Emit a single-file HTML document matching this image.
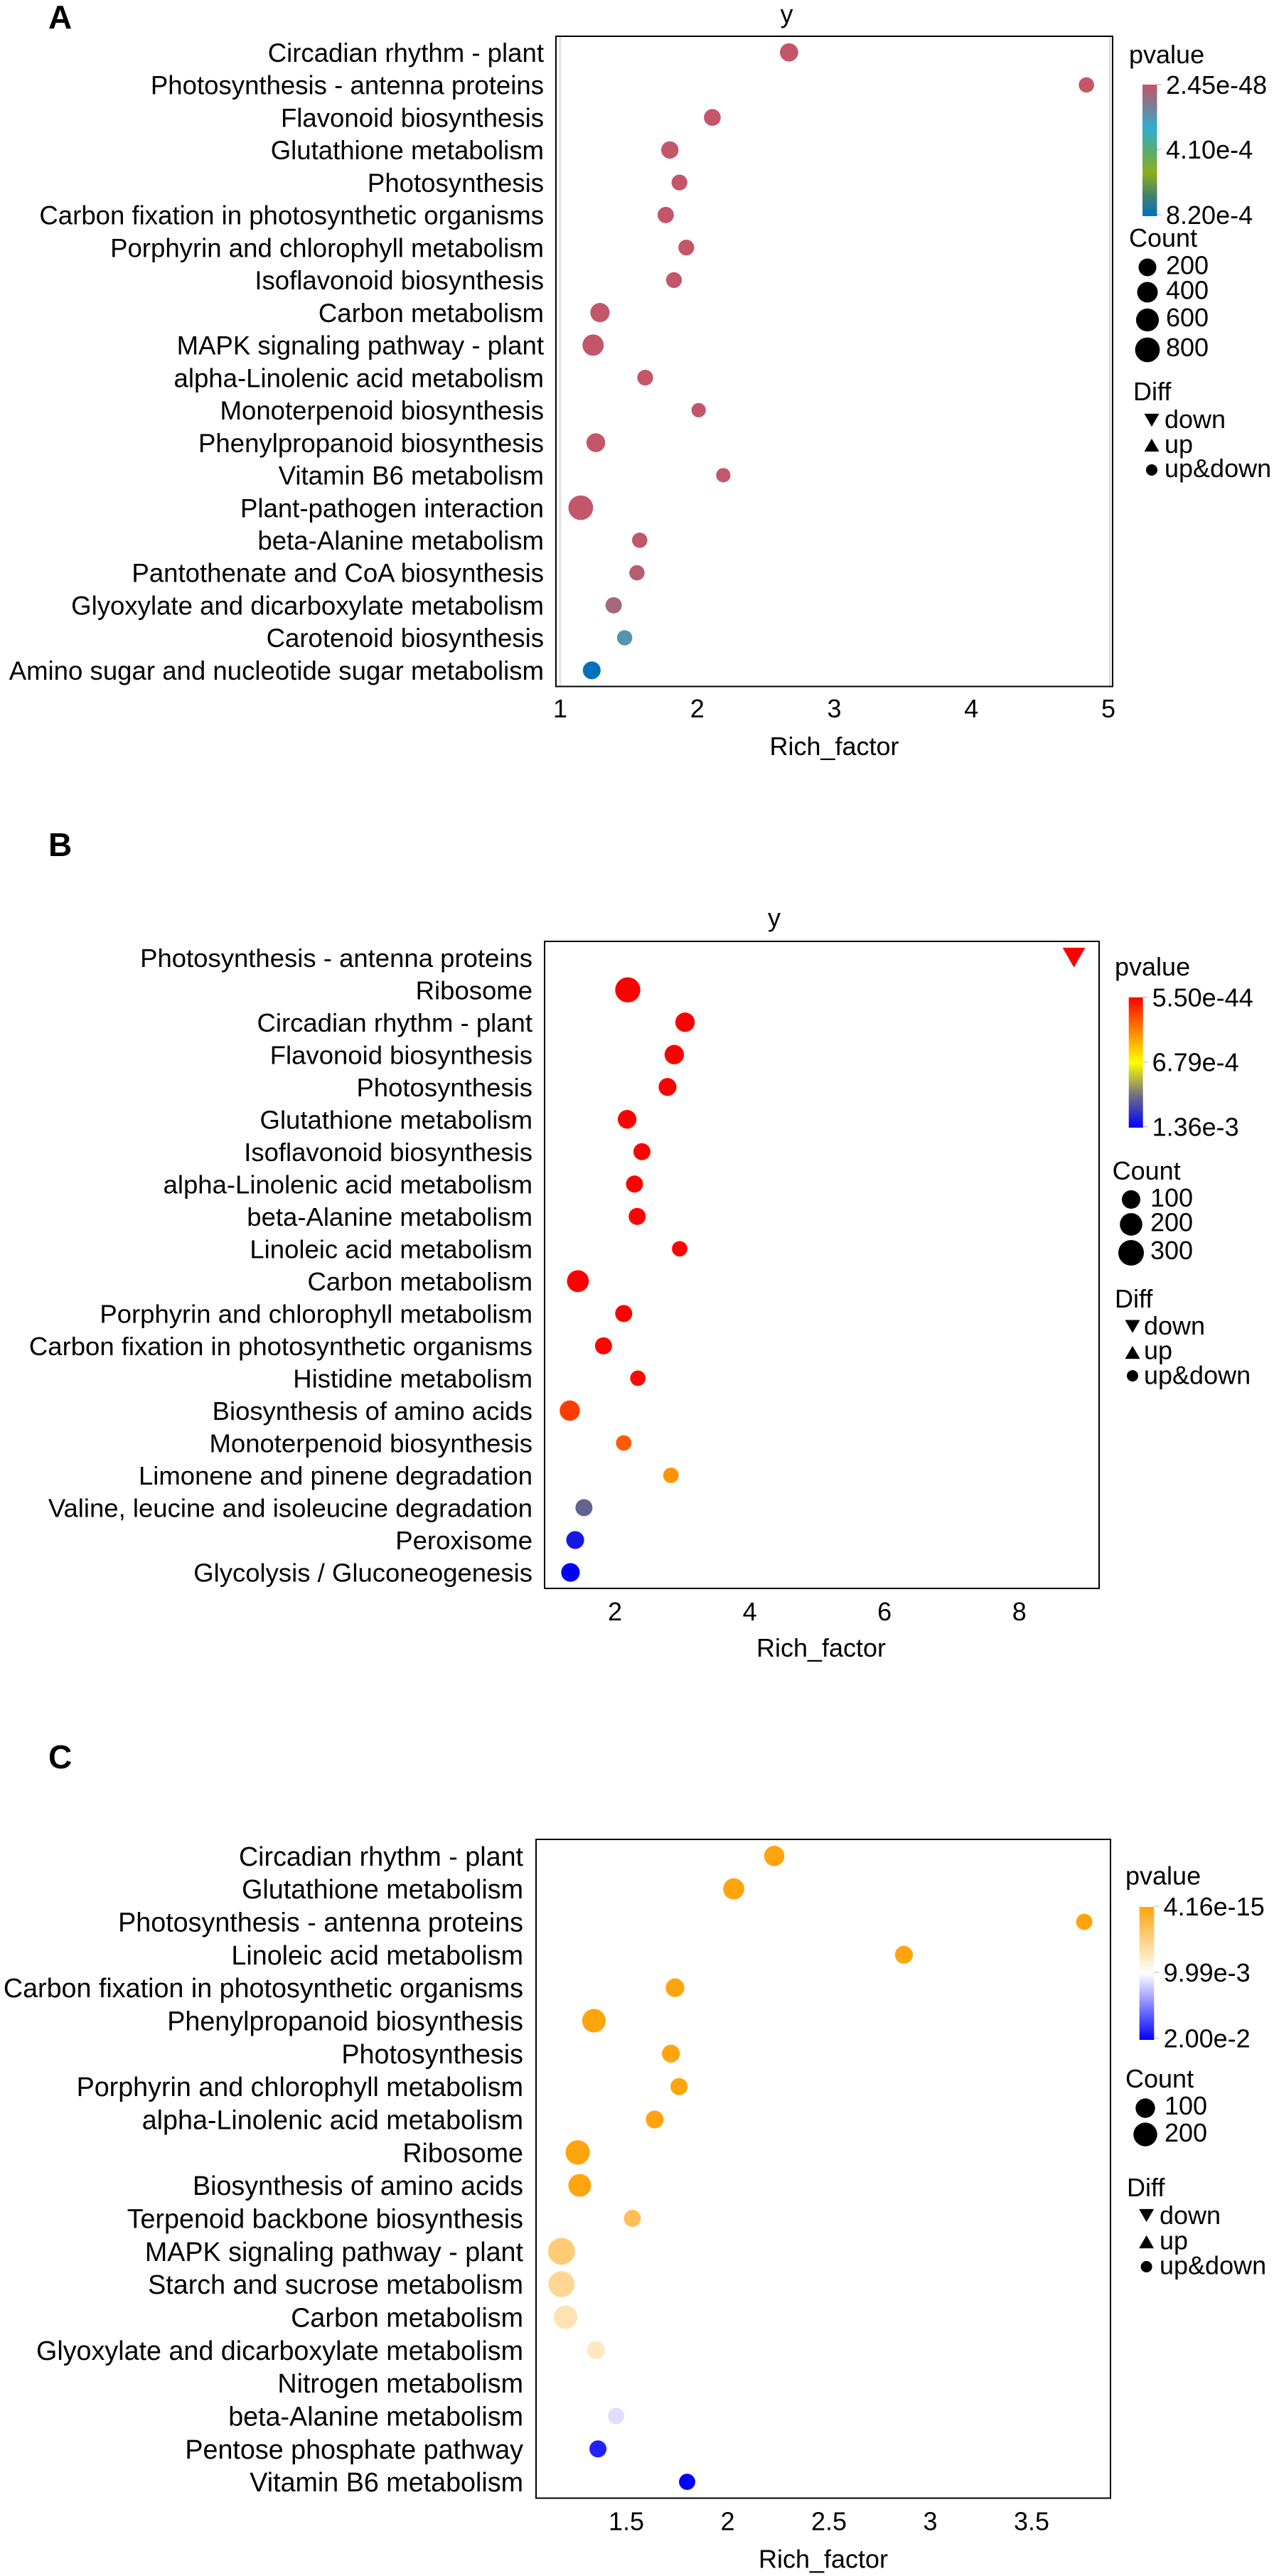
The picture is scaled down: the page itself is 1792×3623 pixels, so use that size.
<!DOCTYPE html>
<html lang="en">
<head>
<meta charset="utf-8">
<title>KEGG enrichment bubble charts</title>
<style>
html,body{margin:0;padding:0;background:#fff;}
svg{display:block;font-family:"Liberation Sans",Arial,sans-serif;}
</style>
</head>
<body>
<svg id="figure" xmlns="http://www.w3.org/2000/svg" width="1792" height="3623" viewBox="0 0 1792 3623"></svg>
<script>
/* ---------- Panel A data ---------- */
const categoriesA = ["Circadian rhythm - plant","Photosynthesis - antenna proteins","Flavonoid biosynthesis","Glutathione metabolism","Photosynthesis","Carbon fixation in photosynthetic organisms","Porphyrin and chlorophyll metabolism","Isoflavonoid biosynthesis","Carbon metabolism","MAPK signaling pathway - plant","alpha-Linolenic acid metabolism","Monoterpenoid biosynthesis","Phenylpropanoid biosynthesis","Vitamin B6 metabolism","Plant-pathogen interaction","beta-Alanine metabolism","Pantothenate and CoA biosynthesis","Glyoxylate and dicarboxylate metabolism","Carotenoid biosynthesis","Amino sugar and nucleotide sugar metabolism"];
const richA = [2.67,4.84,2.11,1.80,1.87,1.77,1.92,1.83,1.29,1.24,1.62,2.01,1.26,2.19,1.15,1.58,1.56,1.39,1.47,1.23];
const countA = [233,85,150,176,105,126,105,105,299,454,105,52,265,52,801,85,85,126,85,203];
const pvalA = [1e-48,1e-20,1e-18,1e-15,1e-14,1e-12,1e-11,1e-10,1e-9,1e-8,1e-7,1e-7,1e-6,2e-6,3e-6,8e-6,2.5e-5,6e-5,2e-4,8.2e-4];
const diffA = ["up&down","up&down","up&down","up&down","up&down","up&down","up&down","up&down","up&down","up&down","up&down","up&down","up&down","up&down","up&down","up&down","up&down","up&down","up&down","up&down"];
const xTicksA = [1,2,3,4,5];
const pvalTicksA = ["2.45e-48","4.10e-4","8.20e-4"];
const countLegendA = [200,400,600,800];

/* ---------- Panel B data ---------- */
const categoriesB = ["Photosynthesis - antenna proteins","Ribosome","Circadian rhythm - plant","Flavonoid biosynthesis","Photosynthesis","Glutathione metabolism","Isoflavonoid biosynthesis","alpha-Linolenic acid metabolism","beta-Alanine metabolism","Linoleic acid metabolism","Carbon metabolism","Porphyrin and chlorophyll metabolism","Carbon fixation in photosynthetic organisms","Histidine metabolism","Biosynthesis of amino acids","Monoterpenoid biosynthesis","Limonene and pinene degradation","Valine, leucine and isoleucine degradation","Peroxisome","Glycolysis / Gluconeogenesis"];
const richB = [8.81,2.19,3.04,2.88,2.78,2.18,2.40,2.29,2.33,2.96,1.45,2.13,1.83,2.34,1.33,2.13,2.83,1.54,1.41,1.34];
const countB = [75,285,121,121,88,103,73,73,73,47,182,73,73,47,141,47,47,73,88,103];
const pvalB = [5.5e-44,1e-30,1e-20,1e-18,1e-16,1e-12,1e-10,1e-9,1e-8,1e-7,1e-6,1e-6,1e-5,2e-5,1.6e-4,2.4e-4,3.9e-4,1.06e-3,1.29e-3,1.36e-3];
const diffB = ["down","up&down","up&down","up&down","up&down","up&down","up&down","up&down","up&down","up&down","up&down","up&down","up&down","up&down","up&down","up&down","up&down","up&down","up&down","up&down"];
const xTicksB = [2,4,6,8];
const pvalTicksB = ["5.50e-44","6.79e-4","1.36e-3"];
const countLegendB = [100,200,300];

/* ---------- Panel C data ---------- */
const categoriesC = ["Circadian rhythm - plant","Glutathione metabolism","Photosynthesis - antenna proteins","Linoleic acid metabolism","Carbon fixation in photosynthetic organisms","Phenylpropanoid biosynthesis","Photosynthesis","Porphyrin and chlorophyll metabolism","alpha-Linolenic acid metabolism","Ribosome","Biosynthesis of amino acids","Terpenoid backbone biosynthesis","MAPK signaling pathway - plant","Starch and sucrose metabolism","Carbon metabolism","Glyoxylate and dicarboxylate metabolism","Nitrogen metabolism","beta-Alanine metabolism","Pentose phosphate pathway","Vitamin B6 metabolism"];
const richC = [2.23,2.03,3.76,2.87,1.74,1.34,1.72,1.76,1.64,1.26,1.27,1.53,1.18,1.18,1.20,1.35,1.30,1.45,1.36,1.80];
const countC = [117,134,47,71,85,196,71,59,71,216,174,59,295,267,196,71,60,47,59,47];
const pvalC = [4.16e-15,1e-12,1e-11,1e-10,1e-9,1e-8,1e-7,1e-6,1e-5,2e-5,1e-4,3e-3,4.3e-3,5.5e-3,6.8e-3,7.4e-3,9.99e-3,1.13e-2,1.87e-2,2e-2];
const diffC = ["up&down","up&down","up&down","up&down","up&down","up&down","up&down","up&down","up&down","up&down","up&down","up&down","up&down","up&down","up&down","up&down","up&down","up&down","up&down","up&down"];
const xTicksC = [1.5,2,2.5,3,3.5];
const pvalTicksC = ["4.16e-15","9.99e-3","2.00e-2"];
const countLegendC = [100,200];

const diffLevels = ["down","up","up&down"];

/* ---------- Layout (pixels, styles) kept apart from the data ---------- */
const panels = [
 {id:'a',letter:'A',letterY:40,cats:categoriesA,rich:richA,count:countA,pval:pvalA,diff:diffA,xTicks:xTicksA,pTicks:pvalTicksA,cLegend:countLegendA,
  box:{l:782,r:1565,t:51,b:965.5},xRef:[1,788,192.75],rowFirst:73.7,rowLast:942.8,labelRight:765,labelSize:36.6,
  title:{x:1106.5,y:32},tickY:996,xTitle:{x:1173.5,y:1049},guides:[788,1561.5],
  pMax:8.2e-4,colors:['#c4566a','#807a90','#30aed0','#5aac70','#8cae1c','#3f7f70','#0072bd'],stops:[0,.15,.33,.5,.67,.85,1],
  size:[7.6,.346],
  lg:{pTitle:[1588,89],bar:[1607,1627.5,119,304],pLabX:1640,pLabY:[119,210,302],cTitle:[1588,347],cDotX:1614,cDotY:[376,411,450,492],cLabX:1640,cLabY:[372.5,407.6,446,488],dTitle:[1594,563],dSymX:1620,dSymY:[591,626,661],dLabX:1638,dLabY:[589,624,658]}},
 {id:'b',letter:'B',letterY:1204,cats:categoriesB,rich:richB,count:countB,pval:pvalB,diff:diffB,xTicks:xTicksB,pTicks:pvalTicksB,cLegend:countLegendB,
  box:{l:766,r:1546,t:1324,b:2234},xRef:[2,865,94.8],rowFirst:1346.7,rowLast:2211.5,labelRight:749,labelSize:36.5,
  title:{x:1089,y:1303},tickY:2266,xTitle:{x:1155,y:2317},guides:[],
  pMax:1.36e-3,colors:['#ff0000','#ff8000','#ffff00','#707080','#0000ff'],stops:[0,.25,.5,.75,1],
  size:[6.15,.685],
  lg:{pTitle:[1568,1372],bar:[1587.7,1607.7,1402.7,1586],pLabX:1620.6,pLabY:[1402.5,1493.6,1584.7],cTitle:[1564.6,1659],cDotX:1591,cDotY:[1687,1722,1762],cLabX:1618,cLabY:[1684,1718.6,1758],dTitle:[1568,1839],dSymX:1593,dSymY:[1865.6,1902,1935],dLabX:1609,dLabY:[1864,1898.5,1933.7]}},
 {id:'c',letter:'C',letterY:2487,cats:categoriesC,rich:richC,count:countC,pval:pvalC,diff:diffC,xTicks:xTicksC,pTicks:pvalTicksC,cLegend:countLegendC,
  box:{l:754,r:1562,t:2587,b:3513.5},xRef:[1.5,881,285],rowFirst:2610.3,rowLast:3490.6,labelRight:736,labelSize:37.7,
  title:null,tickY:3545.4,xTitle:{x:1158,y:3598.7},guides:[],
  pMax:2e-2,colors:['#ffa40c','#ffffff','#0000ff'],stops:[0,.5,1],
  size:[6.45,.725],
  lg:{pTitle:[1583,2650.6],bar:[1602.7,1623.3,2682,2869],pLabX:1636.6,pLabY:[2681,2774,2866.7],cTitle:[1583,2936],cDotX:1611,cDotY:[2965,3002],cLabX:1638,cLabY:[2961,2999],dTitle:[1585,3089],dSymX:1612.6,dSymY:[3116,3153,3188],dLabX:1631,dLabY:[3115,3150.5,3185.6]}}
];

const SVGNS = 'http://www.w3.org/2000/svg';
const root = document.getElementById('figure');

function make(tag, attrs, parent){
  const n = document.createElementNS(SVGNS, tag);
  for (const k in attrs) n.setAttribute(k, attrs[k]);
  parent.appendChild(n);
  return n;
}
function label(parent, str, x, y, size, anchor, weight){
  const n = make('text', {x:x, y:y, 'font-size':size, 'text-anchor':anchor||'start', 'font-weight':weight||'normal', fill:'#000'}, parent);
  n.textContent = str;
  return n;
}
function centered(parent, str, x, yc, size, anchor){
  return label(parent, str, x, yc + size*0.36, size, anchor);
}
function hex2rgb(h){ return [1,3,5].map(i=>parseInt(h.substr(i,2),16)); }
function colorScale(p, cfg){
  const t = Math.max(0, Math.min(1, p / cfg.pMax));
  for (let i = 1; i < cfg.stops.length; i++){
    if (t <= cfg.stops[i]){
      const f = (t - cfg.stops[i-1]) / (cfg.stops[i] - cfg.stops[i-1]);
      const a = hex2rgb(cfg.colors[i-1]), b = hex2rgb(cfg.colors[i]);
      return 'rgb(' + a.map((v,j)=>Math.round(v + (b[j]-v)*f)).join(',') + ')';
    }
  }
  return cfg.colors[cfg.colors.length-1];
}
function radiusScale(c, cfg){ return cfg.size[0] + cfg.size[1]*Math.sqrt(c); }
function triangle(parent, x, y, half, up){
  const h = half*0.87;
  const pts = up
    ? [[x-half,y+h],[x+half,y+h],[x,y-h]]
    : [[x-half,y-h],[x+half,y-h],[x,y+h]];
  return pts.map(p=>p.join(',')).join(' ');
}

const defs = make('defs', {}, root);

panels.forEach(function(cfg){
  const g = make('g', {}, root);
  
  

  const xScale = v => cfg.xRef[1] + (v - cfg.xRef[0]) * cfg.xRef[2];
  const yScale = i => cfg.rowFirst + i * (cfg.rowLast - cfg.rowFirst) / (cfg.cats.length - 1);

  const letter = label(g, cfg.letter, 68, cfg.letterY, 46, 'start', 'bold');
  
  

  cfg.guides.forEach(function(gx){
    const guide = make('line', {x1:gx, x2:gx, y1:cfg.box.t, y2:cfg.box.b, stroke:'#e2e2e2', 'stroke-width':3}, g);
    
    
  });

  const frame = make('rect', {x:cfg.box.l, y:cfg.box.t, width:cfg.box.r-cfg.box.l, height:cfg.box.b-cfg.box.t, fill:'none', stroke:'#000', 'stroke-width':2}, g);
  
  

  if (cfg.title){
    const title = label(g, 'y', cfg.title.x, cfg.title.y, 36, 'middle');
    
    
  }

  cfg.cats.forEach(function(name, i){
    const t = centered(g, name, cfg.labelRight, yScale(i), cfg.labelSize, 'end');
    
    
  });

  cfg.xTicks.forEach(function(v){
    const t = centered(g, String(v), xScale(v), cfg.tickY, 36, 'middle');
    
    
  });

  const xt = centered(g, 'Rich_factor', cfg.xTitle.x, cfg.xTitle.y, 36, 'middle');
  
  

  cfg.rich.forEach(function(v, i){
    const x = xScale(v), y = yScale(i), r = radiusScale(cfg.count[i], cfg), col = colorScale(cfg.pval[i], cfg);
    let m;
    if (cfg.diff[i] === 'down'){
      m = make('polygon', {points:triangle(g, x, y, r*1.32, false), fill:col}, g);
    } else if (cfg.diff[i] === 'up'){
      m = make('polygon', {points:triangle(g, x, y, r*1.32, true), fill:col}, g);
    } else {
      m = make('circle', {cx:x, cy:y, r:r, fill:col}, g);
    }
    
    
  });

  /* legends */
  const L = cfg.lg;
  const pt = label(g, 'pvalue', L.pTitle[0], L.pTitle[1], 36);
  
  

  const grad = make('linearGradient', {id:'grad-'+cfg.id, x1:0, y1:0, x2:0, y2:1}, defs);
  cfg.stops.forEach(function(s, i){
    make('stop', {offset:s, 'stop-color':cfg.colors[i]}, grad);
  });
  const bar = make('rect', {x:L.bar[0], y:L.bar[2], width:L.bar[1]-L.bar[0], height:L.bar[3]-L.bar[2], fill:'url(#grad-'+cfg.id+')'}, g);
  
  

  cfg.pTicks.forEach(function(s, i){
    const tk = make('line', {x1:L.bar[1], x2:L.bar[1]+7, y1:L.pLabY[i], y2:L.pLabY[i], stroke:'#b5b5b5', 'stroke-width':1}, g);
    
    
    const t = centered(g, s, L.pLabX, L.pLabY[i], 36);
    
    
  });

  const ct = label(g, 'Count', L.cTitle[0], L.cTitle[1], 36);
  
  
  cfg.cLegend.forEach(function(c, i){
    const d = make('circle', {cx:L.cDotX, cy:L.cDotY[i], r:radiusScale(c, cfg), fill:'#000'}, g);
    
    
    const t = centered(g, String(c), L.cLabX, L.cLabY[i], 36);
    
    
  });

  const dt = label(g, 'Diff', L.dTitle[0], L.dTitle[1], 36);
  
  
  diffLevels.forEach(function(s, i){
    let sym;
    if (s === 'down'){
      sym = make('polygon', {points:triangle(g, L.dSymX, L.dSymY[i], 10.5, false), fill:'#000'}, g);
    } else if (s === 'up'){
      sym = make('polygon', {points:triangle(g, L.dSymX, L.dSymY[i], 10.5, true), fill:'#000'}, g);
    } else {
      sym = make('circle', {cx:L.dSymX, cy:L.dSymY[i], r:8, fill:'#000'}, g);
    }
    
    
    const t = centered(g, s, L.dLabX, L.dLabY[i], 36);
    
    
  });
});
</script>
</body>
</html>
